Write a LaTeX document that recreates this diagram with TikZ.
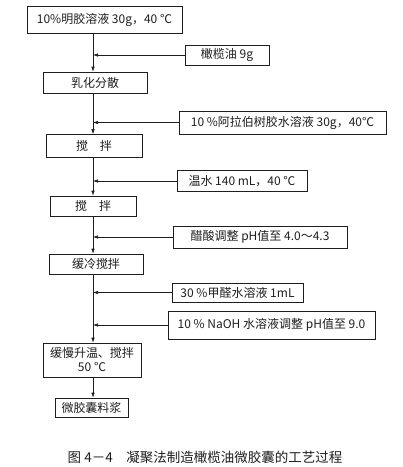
\documentclass[tikz,border=0pt]{standalone}
\usepackage{fontspec}
\usepackage{xcolor}
\usetikzlibrary{arrows.meta}
\newfontfamily\cjk{Noto Sans CJK SC}
\definecolor{scanink}{HTML}{1E1E1E}

\begin{document}
\begin{tikzpicture}[
  x=1pt,
  y=-1pt,
  every node/.style={font=\cjk\fontsize{12}{14}\selectfont, scanink},
  stagebox/.style={draw=scanink, line width=0.6pt, inner sep=0pt, align=center},
  flow/.style={scanink, line width=0.6pt, -{Latex[length=5pt, width=3.5pt]}},
  feed/.style={scanink, line width=0.6pt, -{Latex[length=5pt, width=3.5pt]}}
]
  % ---- page frame, same size as the scanned figure ----
  \useasboundingbox (0,0) rectangle (403,467);
  \coordinate (spine) at (93,0);

  % ---- main column ----
  \node[stagebox, minimum width=155, minimum height=27] (gel) at (104.5,20)
    {10\%明胶溶液 30g，40 ℃};
  \node[stagebox, minimum width=104, minimum height=21] (emul) at (95,82.5)
    {乳化分散};
  \node[stagebox, minimum width=96, minimum height=23] (stirA) at (94,146)
    {搅\quad 拌};
  \node[stagebox, minimum width=86, minimum height=20] (stirB) at (93,206)
    {搅\quad 拌};
  \node[stagebox, minimum width=94, minimum height=20] (cool) at (96,264)
    {缓冷搅拌};
  \node[stagebox, minimum width=98, minimum height=34] (heat) at (92,360)
    {缓慢升温、搅拌\\[0pt] 50 ℃};
  \node[stagebox, minimum width=73, minimum height=19] (slurry) at (91.5,407.5)
    {微胶囊料浆};

  % ---- side additions ----
  \node[stagebox, minimum width=84, minimum height=20] (oil) at (227,55)
    {橄榄油 9g};
  \node[stagebox, minimum width=207, minimum height=23] (gum) at (282.5,122.5)
    {10 \%阿拉伯树胶水溶液 30g，40℃};
  \node[stagebox, minimum width=130, minimum height=21] (water) at (242,181)
    {温水 140 mL，40 ℃};
  \node[stagebox, minimum width=174, minimum height=22] (acid) at (260,237)
    {醋酸调整 pH值至 4.0～4.3};
  \node[stagebox, minimum width=131, minimum height=19] (formal) at (237.5,292.5)
    {30 \%甲醛水溶液 1mL};
  \node[stagebox, minimum width=207, minimum height=28] (naoh) at (271.5,325)
    {10 \% NaOH 水溶液调整 pH值至 9.0};

  % ---- spine segments, one arrow head each ----
  \draw[flow] (gel.south -| spine) -- (emul.north -| spine);
  \draw[flow] (emul.south -| spine) -- (stirA.north -| spine);
  \draw[flow] (stirA.south -| spine) -- (stirB.north -| spine);
  \draw[flow] (stirB.south -| spine) -- (cool.north -| spine);
  \draw[flow] (cool.south -| spine) -- (heat.north -| spine);
  \draw[flow] (heat.south -| spine) -- (slurry.north -| spine);

  % ---- feeds into the spine ----
  \foreach \side in {oil, gum, water, acid, formal, naoh}
    \draw[feed] (\side.west) -- (\side.west -| spine);

  % ---- caption ----
  \node[font=\cjk\fontsize{13.5}{16}\selectfont] (caption) at (205,457)
    {图 4－4\quad 凝聚法制造橄榄油微胶囊的工艺过程};
\end{tikzpicture}
\end{document}
